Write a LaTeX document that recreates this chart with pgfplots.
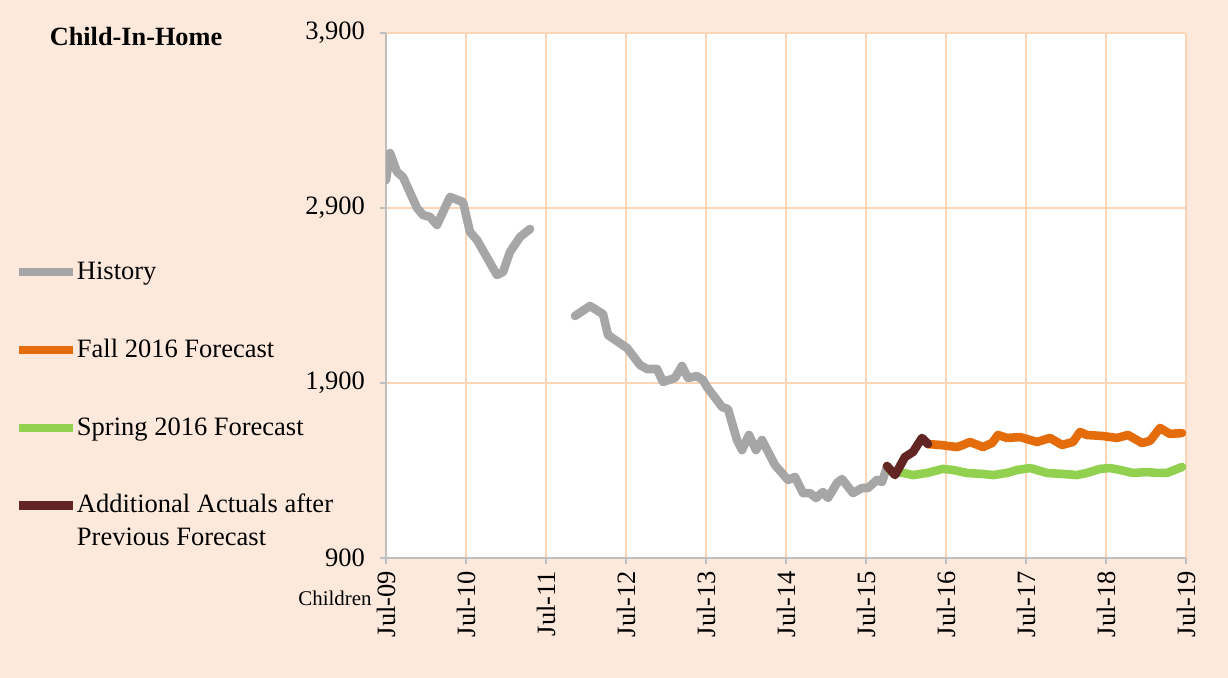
\documentclass[border=0pt]{standalone}
\usepackage{pgfplots}
\pgfplotsset{compat=1.18}
\usepackage{pgfplotstable}
\usepackage{fontspec}
\setmainfont{Liberation Serif}
\definecolor{bgc}{HTML}{FDE9DC}
\definecolor{gridc}{HTML}{FBD5B5}
\definecolor{axc}{HTML}{BFBFBF}
\definecolor{histc}{HTML}{A6A6A6}
\definecolor{fallc}{HTML}{E46C0A}
\definecolor{sprc}{HTML}{92D050}
\definecolor{actc}{HTML}{632523}
\pgfplotsset{legend image code/.code={\draw[#1,line cap=butt] (0bp,0bp) -- (27bp,0bp);}}

\pgfplotstableread{
x y
0 3060
0.6 3214
1.65 3106
2.55 3077
4.65 2900
5.55 2860
6.6 2849
7.65 2803
9.6 2963
11.55 2934
12.6 2763
13.65 2717
16.65 2517
17.55 2534
18.6 2649
20.1 2734
21.6 2780
25 nan
28.35 2283
30.6 2340
32.55 2294
33.3 2174
36.15 2100
38.1 2003
39.15 1980
40.65 1980
41.55 1906
43.35 1929
44.4 1997
45.3 1929
46.65 1940
47.55 1917
48.15 1877
50.4 1763
51.3 1751
52.65 1574
53.4 1517
54.45 1603
55.5 1517
56.4 1574
58.35 1431
60.3 1346
61.35 1363
62.55 1271
63.6 1271
64.5 1243
65.55 1277
66.3 1243
67.65 1329
68.4 1351
70.05 1271
71.4 1300
72.3 1300
73.65 1346
74.4 1334
75.15 1420
}\histtab

\pgfplotstableread{
x y
75.15 1426
76.35 1374
77.85 1477
79.05 1506
80.4 1586
81.3 1551
}\acttab

\pgfplotstableread{
x y
81.3 1551
83.1 1546
85.65 1534
86.55 1546
87.6 1563
89.55 1534
90.9 1557
91.8 1603
93.15 1586
95.1 1591
97.65 1563
99.6 1586
101.4 1546
103.05 1563
104.1 1620
105.15 1603
107.55 1597
109.65 1586
111.3 1603
113.4 1557
114.6 1569
116.1 1643
117.6 1609
119.4 1614
}\falltab

\pgfplotstableread{
x y
75.6 1400
77.55 1386
79.05 1374
81.15 1386
83.55 1409
85.05 1403
87.15 1386
89.55 1380
91.05 1374
93.15 1386
94.65 1403
96.6 1414
99.15 1386
101.55 1380
103.65 1374
105.15 1386
107.1 1409
108.6 1414
110.1 1403
112.05 1386
114.15 1391
115.65 1386
117.15 1386
119.4 1420
}\sprtab

\begin{document}
\begin{tikzpicture}[font=\fontsize{13.3}{16}\selectfont]
\useasboundingbox (0,0) rectangle (614bp,339bp);
\fill[bgc] (0,0) rectangle (614bp,339bp);
\node[font=\fontsize{13.2}{16}\selectfont\bfseries] at (68bp,320.5bp) {Child-In-Home};
\node[font=\fontsize{10.5}{12}\selectfont, anchor=east, inner sep=0pt] at (186bp,40bp) {Children};
\begin{axis}[
  at={(193bp,60bp)}, anchor=south west,
  scale only axis, width=400bp, height=262.5bp,
  xmin=0, xmax=120, ymin=900, ymax=3900,
  axis background/.style={fill=white},
  axis x line*=bottom, axis y line*=left,
  axis line style={color=axc, line width=0.8pt, -},
  xtick={0,12,...,120},
  xticklabels={Jul-09,Jul-10,Jul-11,Jul-12,Jul-13,Jul-14,Jul-15,Jul-16,Jul-17,Jul-18,Jul-19},
  xticklabel style={rotate=90, anchor=east},
  ytick={900,1900,2900,3900},
  yticklabel style={xshift=-4bp},
  /pgf/number format/.cd, 1000 sep={,}, assume math mode=true, /pgfplots/.cd,
  tick align=outside, major tick length=3bp,
  tick style={color=axc, line width=0.8pt},
  grid=major, major grid style={color=gridc, line width=0.9pt},
  unbounded coords=jump,
  legend cell align=left,
  legend style={draw=none, fill=none, at={(axis description cs:-0.465,0.5724)}, anchor=north west,
    inner sep=0pt, row sep=24.5bp, column sep=-2bp, font=\fontsize{13.3}{16}\selectfont},
  every axis plot/.append style={line width=4.3bp, line join=round, line cap=round},
]
\addplot[histc] table {\histtab};
\addlegendentry{History}
\addplot[fallc] table {\falltab};
\addlegendentry{Fall 2016 Forecast}
\addplot[sprc] table {\sprtab};
\addlegendentry{Spring 2016 Forecast}
\addplot[actc] table {\acttab};
\addlegendentry{\raisebox{0pt}[8.5bp][0pt]{\begin{tabular}[t]{@{}l@{}}Additional Actuals after\\[0.5bp]Previous Forecast\end{tabular}}}
\end{axis}
\end{tikzpicture}
\end{document}
